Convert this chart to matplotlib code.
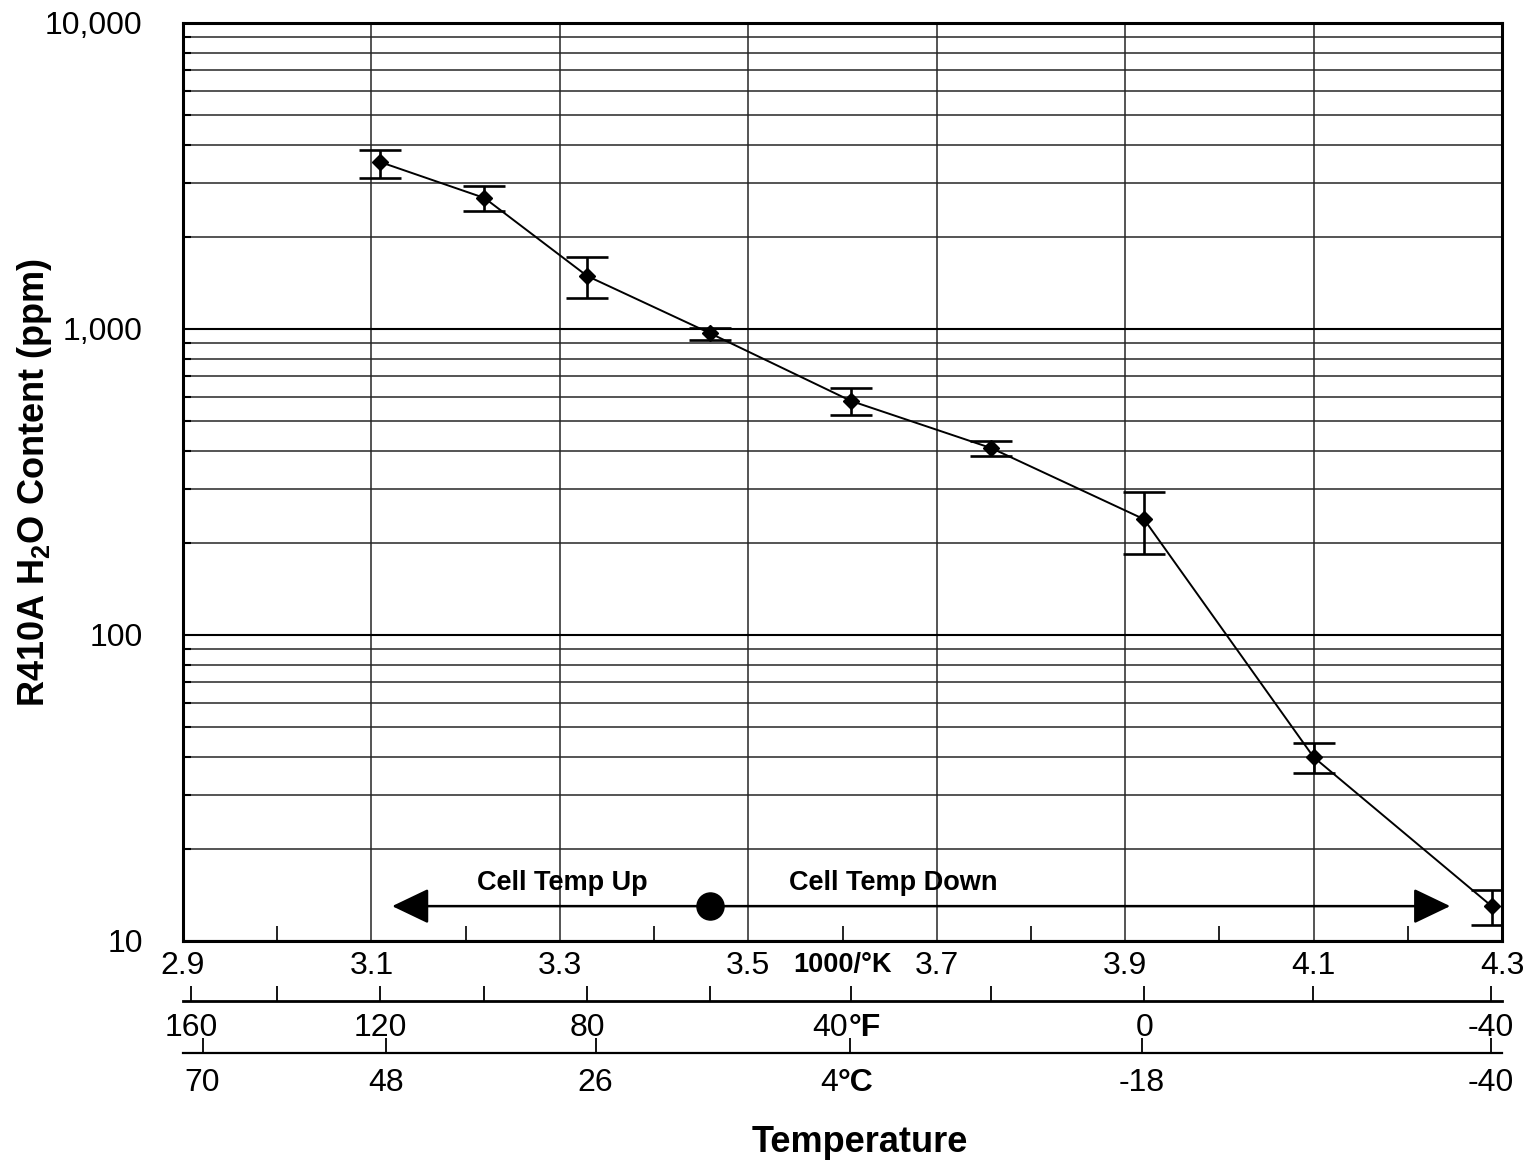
import matplotlib
matplotlib.use('Agg')
import matplotlib.pyplot as plt
from matplotlib import rcParams
from matplotlib.ticker import FixedLocator, NullFormatter
import numpy as np

config = {
    "font.family": ['Liberation Sans', 'DejaVu Sans'],
    "mathtext.fontset": 'custom',
    "mathtext.rm": 'Liberation Sans:bold',
    "mathtext.bf": 'Liberation Sans:bold',
    "mathtext.default": 'bf',
}
rcParams.update(config)

# data (x = 1000/K, y = ppm)
inv_k = [3.109, 3.220, 3.329, 3.459, 3.609, 3.758, 3.920, 4.100, 4.289]
ppm = [3515, 2680, 1490, 970, 582, 408, 239, 39.9, 13.0]
ppm_hi = [3846, 2931, 1718, 1007, 641, 430, 293, 44.4, 14.7]
ppm_lo = [3112, 2432, 1262, 920, 523, 384, 184, 35.4, 11.3]

# x axis ticks
k_major = [2.9, 3.1, 3.3, 3.5, 3.7, 3.9, 4.1, 4.3]
k_labels = ['2.9', '3.1', '3.3', '3.5', '3.7', '3.9', '4.1', '4.3']
k_minor = [3.0, 3.2, 3.4, 3.6, 3.8, 4.0, 4.2]

# secondary temperature scales (positions in 1000/K)
f_pos = [2.9085, 3.1091, 3.3289, 3.6091, 3.9202, 4.2885]
f_labels = ['160', '120', '80', '', '0', '-40']
f_minor = [2.9998, 3.2195, 3.4594, 3.7578, 4.0996]
c_pos = [2.9207, 3.1155, 3.3379, 3.6081, 3.9180, 4.2885]
c_labels = ['70', '48', '26', '', '-18', '-40']

y_major = [10, 100, 1000, 10000]
y_labels = ['10', '100', '1,000', '10,000']

# cell temp arrow
arrow_y = 13
arrow_left = 3.122
arrow_right = 4.245
arrow_mid = 3.459

TICK_FS = 23

W, H = 1526, 1164
fig = plt.figure(figsize=(W / 100, H / 100), dpi=100)
L, R = 183 / W, 1502 / W
B, T = 1 - 941 / H, 1 - 23 / H
ax = fig.add_axes([L, B, R - L, T - B])

ax.set_yscale('log')
ax.set_xlim(2.9, 4.3)
ax.set_ylim(10, 10000)
ax.set_axisbelow(True)

ax.set_xticks(k_major)
ax.set_xticklabels(k_labels, fontsize=TICK_FS)
ax.xaxis.set_minor_locator(FixedLocator(k_minor))
ax.tick_params(axis='x', which='major', length=0, pad=7)
ax.tick_params(axis='x', which='minor', direction='in', length=11, width=1.2)

ax.set_yticks(y_major)
ax.set_yticklabels(y_labels, fontsize=TICK_FS)
ax.yaxis.set_minor_locator(FixedLocator([m * d for d in [10, 100, 1000] for m in range(2, 10)]))
ax.yaxis.set_minor_formatter(NullFormatter())
ax.tick_params(axis='y', which='major', length=0, pad=29)
ax.tick_params(axis='y', which='minor', direction='in', length=6, width=1.5)

ax.grid(True, which='major', axis='y', color='black', lw=1.5)
ax.grid(True, which='minor', axis='y', color='#262626', lw=1.1)
ax.grid(True, which='major', axis='x', color='#262626', lw=1.1)
for s in ax.spines.values():
    s.set_linewidth(2.2)

yerr = [np.array(ppm) - np.array(ppm_lo), np.array(ppm_hi) - np.array(ppm)]
ax.errorbar(inv_k, ppm, yerr=yerr, fmt='-D', color='black', ms=8, lw=1.4,
            elinewidth=1.9, capsize=14.8, capthick=1.9, zorder=5)

# cell temp arrows
head = dict(arrowstyle='-|>,head_length=1.15,head_width=0.55', mutation_scale=20,
            color='black', lw=1.8, shrinkA=0, shrinkB=0)
ax.annotate('', xy=(arrow_left, arrow_y), xytext=(arrow_mid, arrow_y), arrowprops=head, zorder=6)
ax.annotate('', xy=(arrow_right, arrow_y), xytext=(arrow_mid, arrow_y), arrowprops=head, zorder=6)
ax.plot([arrow_mid], [arrow_y], 'o', color='black', ms=19.5, zorder=7)
ax.text(3.303, 14.7, 'Cell Temp Up', fontsize=19.5, fontweight='bold', ha='center', va='baseline')
ax.text(3.654, 14.7, 'Cell Temp Down', fontsize=19.5, fontweight='bold', ha='center', va='baseline')

ax.annotate('1000/°K', xy=(3.6, 0), xycoords=('data', 'axes fraction'), xytext=(0, -8),
            textcoords='offset points', ha='center', va='top', fontsize=19.5, fontweight='bold')


def temp_axis(ybot, pos, labels, minor, pad, lw):
    a = fig.add_axes([L, ybot, R - L, 0.01])
    a.set_xlim(2.9, 4.3)
    a.patch.set_visible(False)
    for k in ['top', 'left', 'right']:
        a.spines[k].set_visible(False)
    a.spines['bottom'].set_linewidth(lw)
    a.set_yticks([])
    a.set_xticks(pos)
    a.set_xticklabels(labels, fontsize=TICK_FS)
    a.xaxis.set_minor_locator(FixedLocator(minor))
    a.tick_params(axis='x', which='both', direction='in', length=11, width=1.3, pad=pad)
    return a


axF = temp_axis(1 - 1001 / H, f_pos, f_labels, f_minor, 9, 2.0)
axC = temp_axis(1 - 1053 / H, c_pos, c_labels, [], 11, 1.6)

axF.annotate('40', xy=(f_pos[3], 0), xycoords=('data', 'axes fraction'), xytext=(-2, -9),
             textcoords='offset points', ha='right', va='top', fontsize=TICK_FS)
axF.annotate('°F', xy=(f_pos[3], 0), xycoords=('data', 'axes fraction'), xytext=(-2, -9),
             textcoords='offset points', ha='left', va='top', fontsize=TICK_FS, fontweight='bold')
axC.annotate('4', xy=(c_pos[3], 0), xycoords=('data', 'axes fraction'), xytext=(-9, -11),
             textcoords='offset points', ha='right', va='top', fontsize=TICK_FS)
axC.annotate('°C', xy=(c_pos[3], 0), xycoords=('data', 'axes fraction'), xytext=(-9, -11),
             textcoords='offset points', ha='left', va='top', fontsize=TICK_FS, fontweight='bold')

fig.text(35 / W, 1 - 482 / H, 'R410A H$_{2}$O Content (ppm)', rotation=90,
         ha='center', va='center', fontsize=26, fontweight='bold')
fig.text(860 / W, 1 - 1143 / H, 'Temperature', ha='center', va='center',
         fontsize=26, fontweight='bold')

fig.savefig('out.png', dpi=100)
